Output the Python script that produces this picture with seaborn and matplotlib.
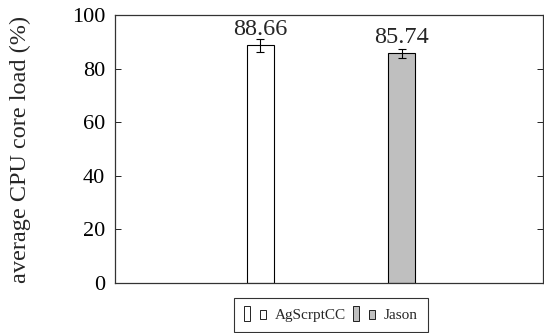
import matplotlib
matplotlib.use("Agg")
import matplotlib.pyplot as plt
import seaborn as sns
import pandas as pd
from matplotlib.legend_handler import HandlerBase
from matplotlib.patches import Rectangle, Patch

# Data
methods = ["AgScrptCC", "Jason"]
loads = [88.66, 85.74]
errors = [2.5, 1.7]
colors = ["#ffffff", "#bfbfbf"]
yticks = [0, 20, 40, 60, 80, 100]

sns.set_theme(style="white")
plt.rcParams["font.family"] = ["Liberation Serif", "DejaVu Serif"]

df = pd.DataFrame({"method": methods, "load": loads})

fig = plt.figure(figsize=(5.44, 3.33), dpi=100)
ax = fig.add_axes([0.2114, 0.150, 0.787, 0.805])

sns.barplot(data=df, x="method", y="load", hue="method", palette=colors,
            edgecolor="black", linewidth=0.8, width=0.19, legend=False,
            errorbar=None, ax=ax)
ax.errorbar(range(len(methods)), loads, yerr=errors, fmt="none",
            ecolor="black", elinewidth=0.8, capsize=3, capthick=0.8)

for i, v in enumerate(loads):
    ax.annotate(f"{v:.2f}", (i, v), xytext=(0, 7.3), textcoords="offset points",
                ha="center", va="baseline", fontsize=17.5)

ax.set_xlim(-1.025, 2.0)
ax.set_ylim(0, 100)
ax.set_yticks(yticks)
ax.set_xticks([])
ax.set_xlabel("")
ax.set_ylabel("average CPU core load (%)", fontsize=17.5)
ax.yaxis.set_label_coords(-0.196, 0.5)
ax.tick_params(axis="y", which="both", direction="in", length=4, width=0.6,
               left=True, right=True, labelsize=16, colors="black", pad=7.2)
for s in ax.spines.values():
    s.set_color("#333333")
    s.set_linewidth(0.9)
    s.set_visible(True)


class TwoBoxHandler(HandlerBase):
    def create_artists(self, legend, orig_handle, xdescent, ydescent,
                       width, height, fontsize, trans):
        fc = orig_handle.get_facecolor()
        w = 6.0 / 23.0 * width
        tall = Rectangle((-xdescent, -ydescent - 0.15 * height), w,
                         1.3 * height, facecolor=fc, edgecolor="black",
                         linewidth=0.6, transform=trans)
        small = Rectangle((-xdescent + 16.0 / 23.0 * width, -ydescent),
                          w, 0.85 * height, facecolor=fc,
                          edgecolor="black", linewidth=0.6, transform=trans)
        return [tall, small]


handles = [Patch(facecolor=c, edgecolor="black") for c in colors]
leg = fig.legend(handles, methods, loc="lower center", ncol=2,
                 bbox_to_anchor=(0.608, 0.003), borderaxespad=0,
                 frameon=True, fancybox=False,
                 fontsize=11, handlelength=1.5, handleheight=0.75,
                 handletextpad=0.5, columnspacing=0.5, borderpad=0.65,
                 handler_map={Patch: TwoBoxHandler()})
leg.get_frame().set_edgecolor("black")
leg.get_frame().set_linewidth(0.8)

fig.savefig("out.png", dpi=100)
